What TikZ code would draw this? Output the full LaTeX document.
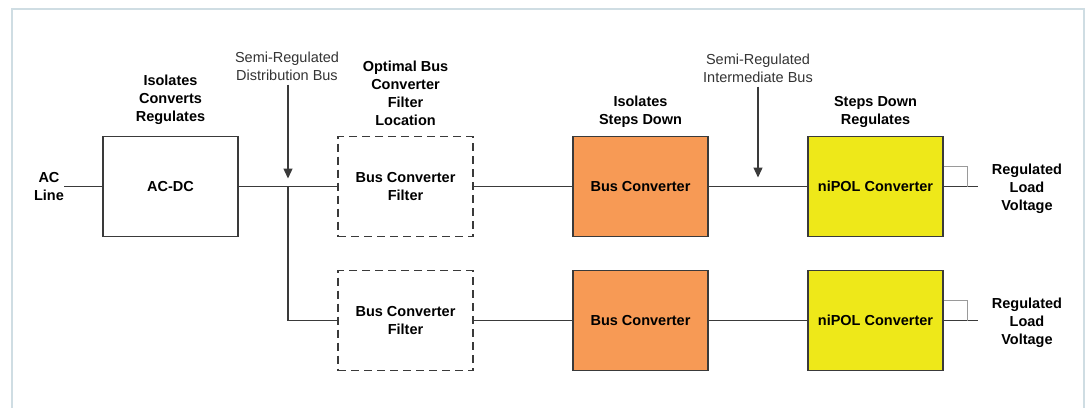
\documentclass[tikz,border=0pt]{standalone}
\usepackage{fontspec}
\setmainfont{Liberation Sans}
\usetikzlibrary{positioning,arrows.meta,calc}
\definecolor{frameBlue}{HTML}{CFDDE3}
\definecolor{busOrange}{HTML}{F79A55}
\definecolor{polYellow}{HTML}{EEE819}
\definecolor{lineGray}{HTML}{3A3A3A}
\definecolor{tapGray}{HTML}{9A9A9A}

\begin{document}
\begin{tikzpicture}[
  x=1pt, y=-1pt,
  font=\fontsize{14.5pt}{18pt}\selectfont,
  every node/.style={align=center},
  block/.style={rectangle, draw=lineGray, line width=1.3pt,
    minimum width=135pt, minimum height=100pt, inner sep=0pt,
    font=\fontsize{14.5pt}{18pt}\selectfont\bfseries},
  filter/.style={block, dash pattern=on 8pt off 5pt, line width=1.3pt},
  caption/.style={inner sep=0pt, font=\fontsize{14.5pt}{18pt}\selectfont\bfseries},
  busnote/.style={inner sep=0pt, text=black!80},
  wire/.style={draw=lineGray, line width=1.3pt},
  arr/.style={wire, -{Triangle[length=10pt, width=9pt]}}
]
\useasboundingbox (0,0) rectangle (1086,407);

% outer frame
\draw[frameBlue, line width=1.6pt] (12,420) -- (12,9) -- (1084,9) -- (1084,420);

% input and first stage
\node[caption] (acline) at (49,186.5) {AC\\Line};
\node[block] (acdc) at (170.5,186.5) {AC-DC};
\node[caption, above=11pt of acdc] (acdccap) {Isolates\\Converts\\Regulates};

% filters
\node[filter] (filt1) at (405.5,186.5) {Bus Converter\\Filter};
\node[filter] (filt2) at (405.5,320.5) {Bus Converter\\Filter};
\node[caption, above=10pt of filt1] (filtcap) {Optimal Bus\\Converter\\Filter\\Location};

% bus converters
\node[block, fill=busOrange] (bc1) at (640.5,186.5) {Bus Converter};
\node[block, fill=busOrange] (bc2) at (640.5,320.5) {Bus Converter};
\node[caption, above=8pt of bc1] (bccap) {Isolates\\Steps Down};

% niPOL converters
\node[block, fill=polYellow] (pol1) at (875.5,186.5) {niPOL Converter};
\node[block, fill=polYellow] (pol2) at (875.5,320.5) {niPOL Converter};
\node[caption, above=8pt of pol1] (polcap) {Steps Down\\Regulates};

% outputs
\node[caption] (reg1) at (1027,188.5) {Regulated\\Load\\Voltage};
\node[caption] (reg2) at (1027,322.5) {Regulated\\Load\\Voltage};

% bus notes
\node[busnote] (distbus) at (287,66) {Semi-Regulated\\Distribution Bus};
\node[busnote] (intbus) at (758,68) {Semi-Regulated\\Intermediate Bus};

\coordinate (jn) at (288,186.5);
\coordinate (ib) at (758,186.5);

% wiring
\draw[wire] (acline.east |- acdc.west) -- (acdc.west);
\draw[wire] (acdc.east) -- (filt1.west);
\draw[wire] (jn) |- (filt2.west);
\draw[wire] (filt1.east) -- (bc1.west);
\draw[wire] (filt2.east) -- (bc2.west);
\draw[wire] (bc1.east) -- (pol1.west);
\draw[wire] (bc2.east) -- (pol2.west);
\draw[wire, shorten >=14pt] (pol1.east) -- (pol1.east -| reg1.west);
\draw[wire, shorten >=14pt] (pol2.east) -- (pol2.east -| reg2.west);

% remote sense taps
\draw[tapGray, line width=1pt] ([yshift=20pt]pol1.east) -| ($(pol1.east)!.5!(pol1.east -| reg1.west)$);
\draw[tapGray, line width=1pt] ([yshift=20pt]pol2.east) -| ($(pol2.east)!.5!(pol2.east -| reg2.west)$);

% bus arrows
\draw[arr, shorten >=8pt, shorten <=4pt] (distbus.south -| jn) -- (jn);
\draw[arr, shorten >=9pt, shorten <=4pt] (intbus.south -| ib) -- (ib);

\end{tikzpicture}
\end{document}
